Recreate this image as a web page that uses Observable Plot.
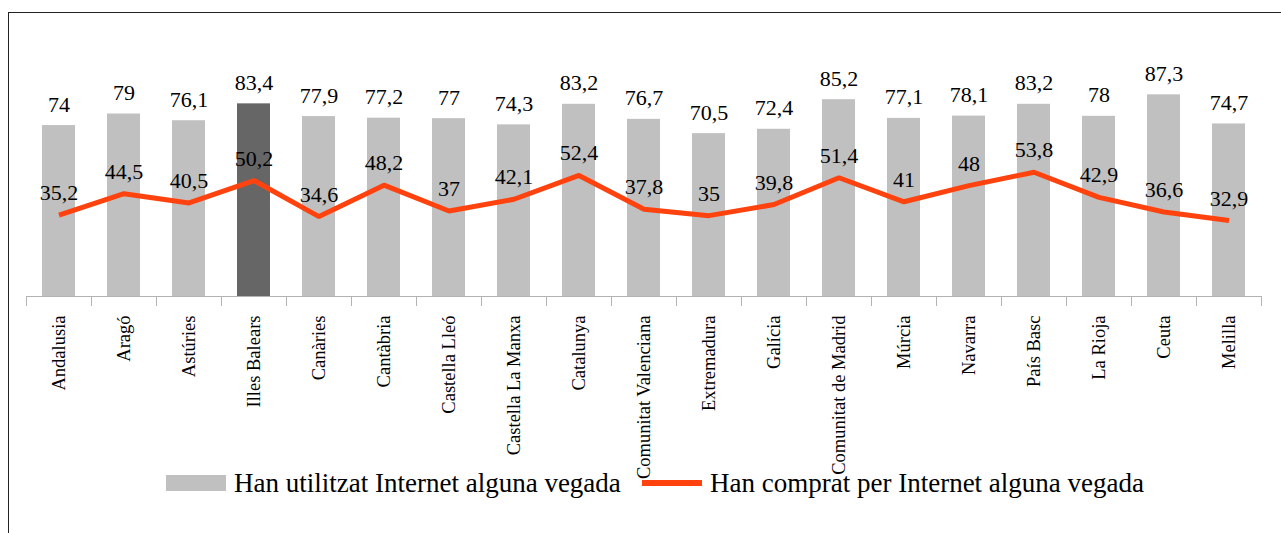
<!DOCTYPE html>
<html>
<head>
<meta charset="utf-8">
<script src="https://cdn.jsdelivr.net/npm/d3@7"></script>
<script src="https://cdn.jsdelivr.net/npm/@observablehq/plot@0.6"></script>
<style>
  html, body { margin: 0; padding: 0; background: #fff; }
  body { width: 1281px; height: 533px; position: relative; overflow: hidden; font-family: "Liberation Serif", "Times New Roman", serif; }
  #frame { position: absolute; left: 8px; top: 12px; width: 1400px; height: 600px; border-left: 1px solid #222; border-top: 1px solid #222; }
  #chart { position: absolute; left: 0; top: 0; }
  #legend { position: absolute; left: 0; top: 466px; width: 1281px; height: 36px; font-size: 27px; color: #000; }
  .sw-bar { position: absolute; left: 166px; top: 9px; width: 60px; height: 16px; background: #c0c0c0; }
  .sw-line { position: absolute; left: 642px; top: 14px; width: 60px; height: 6px; background: #ff420e; }
  .lab { position: absolute; top: 0; line-height: 34px; white-space: nowrap; }
</style>
</head>
<body>
<div id="frame"></div>
<div id="chart"></div>
<div id="legend">
  <div class="sw-bar"></div><span class="lab" id="l1" style="left:234px"></span>
  <div class="sw-line"></div><span class="lab" id="l2" style="left:710px"></span>
</div>
<script>
const regions = ["Andalusia", "Aragó", "Astúries", "Illes Balears", "Canàries", "Cantàbria", "Castella Lleó", "Castella La Manxa", "Catalunya", "Comunitat Valenciana", "Extremadura", "Galícia", "Comunitat de Madrid", "Múrcia", "Navarra", "País Basc", "La Rioja", "Ceuta", "Melilla"];
const usedInternet = [74, 79, 76.1, 83.4, 77.9, 77.2, 77, 74.3, 83.2, 76.7, 70.5, 72.4, 85.2, 77.1, 78.1, 83.2, 78, 87.3, 74.7];
const boughtInternet = [35.2, 44.5, 40.5, 50.2, 34.6, 48.2, 37, 42.1, 52.4, 37.8, 35, 39.8, 51.4, 41, 48, 53.8, 42.9, 36.6, 32.9];
const seriesNames = ["Han utilitzat Internet alguna vegada", "Han comprat per Internet alguna vegada"];
const highlighted = "Illes Balears";

const data = regions.map((r, i) => ({region: r, used: usedInternet[i], bought: boughtInternet[i]}));
const fmt = v => String(v).replace(".", ",");

const W = 1281, H = 533;
const mL = 26, mR = 20, mT = 65, mB = H - 296;
const step = (W - mL - mR) / regions.length;
const axisColor = "#b3b3b3";
const font = "Liberation Serif, Times New Roman, serif";

const chart = Plot.plot({
  width: W,
  height: H,
  marginLeft: mL,
  marginRight: mR,
  marginTop: mT,
  marginBottom: mB,
  style: {fontFamily: font, background: "transparent", overflow: "visible"},
  x: {domain: regions, paddingInner: 0.49, paddingOuter: 0.245, label: null},
  y: {domain: [0, 100], axis: null},
  marks: [
    Plot.barY(data, {x: "region", y: "used", fill: d => d.region === highlighted ? "#666666" : "#c0c0c0"}),
    Plot.ruleY([0], {stroke: axisColor, strokeWidth: 1}),
    Plot.axisX({ticks: regions, tickSize: 10, tickFormat: () => "", stroke: axisColor, dx: -step / 2}),
    Plot.axisX({ticks: [regions[regions.length - 1]], tickSize: 10, tickFormat: () => "", stroke: axisColor, dx: step / 2}),
    Plot.axisX({tickSize: 0, tickRotate: -90, tickPadding: 19, fontSize: 18.5, fill: "#000", fontFamily: font}),
    Plot.line(data, {x: "region", y: "bought", stroke: "#ff420e", strokeWidth: 5, strokeLinejoin: "miter", strokeLinecap: "butt"}),
    Plot.text(data, {x: "region", y: "used", text: d => fmt(d.used), dy: -14, lineAnchor: "bottom", fontSize: 22, fill: "#000", fontFamily: font}),
    Plot.text(data, {x: "region", y: "bought", text: d => fmt(d.bought), dy: -15, lineAnchor: "bottom", fontSize: 22, fill: "#000", fontFamily: font})
  ]
});
document.getElementById("chart").appendChild(chart);
document.getElementById("l1").textContent = seriesNames[0];
document.getElementById("l2").textContent = seriesNames[1];
</script>
</body>
</html>
